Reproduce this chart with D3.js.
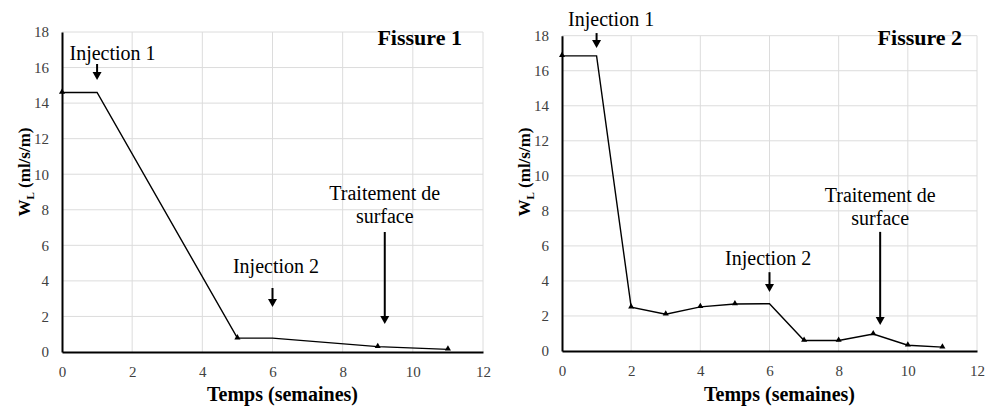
<!DOCTYPE html>
<html>
<head>
<meta charset="utf-8">
<script src="https://cdn.jsdelivr.net/npm/d3@7"></script>
<style>
  body { margin: 0; background: #fff; }
  svg { display: block; }
  svg text { font-family: "Liberation Serif", "Times New Roman", serif; }
</style>
</head>
<body>
<svg width="986" height="409"></svg>
<script>
/* data */
var xTicks = [0, 2, 4, 6, 8, 10, 12];
var yTicks = [0, 2, 4, 6, 8, 10, 12, 14, 16, 18];

var fissure1Weeks = [0, 1, 5, 6, 9, 11];
var fissure1Wl = [14.6, 14.6, 0.78, 0.78, 0.3, 0.15];
var fissure1Marked = [0, 5, 9, 11];

var fissure2Weeks = [0, 1, 2, 3, 4, 5, 6, 7, 8, 9, 10, 11];
var fissure2Wl = [16.85, 16.85, 2.5, 2.1, 2.52, 2.68, 2.7, 0.6, 0.6, 0.97, 0.33, 0.22];
var fissure2Marked = [0, 2, 3, 4, 5, 7, 8, 9, 10, 11];

var svg = d3.select("svg");

/* annotation spots are in data units */
var panels = [
  {
    title: "Fissure 1", weeks: fissure1Weeks, values: fissure1Wl, marked: fissure1Marked,
    left: 62, right: 483, top: 32, bottom: 352, yTitleX: 22,
    titlePos: [11.4, 17.27],
    labels: [
      { lines: ["Injection 1"], x: 1.44, y: 16.4 },
      { lines: ["Injection 2"], x: 6.1, y: 4.44 },
      { lines: ["Traitement de", "surface"], x: 9.2, y: 8.55 }
    ],
    arrows: [
      { x: 1, y1: 16.2, y2: 15.3 },
      { x: 6, y1: 3.6, y2: 2.53 },
      { x: 9.2, y1: 6.75, y2: 1.57 }
    ]
  },
  {
    title: "Fissure 2", weeks: fissure2Weeks, values: fissure2Wl, marked: fissure2Marked,
    left: 562, right: 977, top: 35.7, bottom: 351, yTitleX: 522,
    titlePos: [11.57, 17.46],
    labels: [
      { lines: ["Injection 1"], x: 1.42, y: 18.55 },
      { lines: ["Injection 2"], x: 5.96, y: 4.9 },
      { lines: ["Traitement de", "surface"], x: 9.2, y: 8.5 }
    ],
    arrows: [
      { x: 1, y1: 18.15, y2: 17.3 },
      { x: 6, y1: 4.5, y2: 3.37 },
      { x: 9.2, y1: 6.8, y2: 1.48 }
    ]
  }
];

var drawPanel = function (p) {
  var g = svg.append("g");
  var xScale = d3.scaleLinear().domain([0, 12]).range([p.left, p.right]);
  var yScale = d3.scaleLinear().domain([0, 18]).range([p.bottom, p.top]);

  /* grid */
  g.selectAll(".vgrid").data(xTicks.slice(1)).enter().append("line")
    .attr("x1", (d) => xScale(d)).attr("x2", (d) => xScale(d))
    .attr("y1", yScale(0)).attr("y2", yScale(18))
    .attr("stroke", "#dcdcdc").attr("stroke-width", 1);
  g.selectAll(".hgrid").data(yTicks.slice(1)).enter().append("line")
    .attr("x1", xScale(0)).attr("x2", xScale(12))
    .attr("y1", (d) => yScale(d)).attr("y2", (d) => yScale(d))
    .attr("stroke", "#dcdcdc").attr("stroke-width", 1);

  /* axes */
  var xAxis = d3.axisBottom(xScale).tickValues(xTicks).tickSize(0).tickPadding(14);
  var xg = g.append("g").attr("transform", "translate(0," + yScale(0) + ")").call(xAxis);
  var yAxis = d3.axisLeft(yScale).tickValues(yTicks).tickSize(0).tickPadding(13);
  var yg = g.append("g").attr("transform", "translate(" + xScale(0) + ",0)").call(yAxis);
  [xg, yg].forEach((a) => {
    a.attr("font-family", null);
    a.select(".domain").attr("stroke", "#000").attr("stroke-width", 2);
    a.selectAll("text").attr("font-size", 15).attr("fill", "#404040");
  });

  /* series */
  var pts = p.weeks.map((w, i) => [w, p.values[i]]);
  g.append("path").datum(pts)
    .attr("fill", "none").attr("stroke", "#000").attr("stroke-width", 1.4)
    .attr("d", d3.line().x((d) => xScale(d[0])).y((d) => yScale(d[1])));
  var tri = d3.symbol().type(d3.symbolTriangle).size(16);
  g.selectAll(".mk").data(pts.filter((d) => p.marked.indexOf(d[0]) >= 0)).enter()
    .append("path")
    .attr("d", tri)
    .attr("transform", (d) => "translate(" + xScale(d[0]) + "," + (yScale(d[1]) - 0.5) + ")")
    .attr("fill", "#000");

  /* axis titles */
  g.append("text")
    .attr("x", (p.left + p.right) / 2 + 10).attr("y", 401)
    .attr("text-anchor", "middle").attr("font-weight", "bold").attr("font-size", 20)
    .text("Temps (semaines)");
  var yt = g.append("text")
    .attr("transform", "translate(" + (p.yTitleX + 8) + ",172) rotate(-90)")
    .attr("text-anchor", "middle").attr("font-weight", "bold").attr("font-size", 17);
  yt.append("tspan").text("W");
  yt.append("tspan").attr("font-size", 11).attr("dy", 4).text("L");
  yt.append("tspan").attr("dy", -4).text(" (ml/s/m)");

  /* panel title */
  g.append("text")
    .attr("x", xScale(p.titlePos[0])).attr("y", yScale(p.titlePos[1]))
    .attr("text-anchor", "end").attr("font-weight", "bold").attr("font-size", 22)
    .text(p.title);

  /* annotations */
  p.labels.forEach((l) => {
    var t = g.append("text")
      .attr("x", xScale(l.x)).attr("y", yScale(l.y))
      .attr("text-anchor", "middle").attr("font-size", 20);
    l.lines.forEach((s, i) => {
      t.append("tspan").attr("x", xScale(l.x)).attr("dy", i === 0 ? 0 : 23).text(s);
    });
  });
  p.arrows.forEach((a) => {
    var x = xScale(a.x), y1 = yScale(a.y1), y2 = yScale(a.y2);
    g.append("line")
      .attr("x1", x).attr("x2", x).attr("y1", y1).attr("y2", y2 - 6)
      .attr("stroke", "#000").attr("stroke-width", 2);
    g.append("path")
      .attr("d", "M" + (x - 4.5) + "," + (y2 - 8) + "L" + (x + 4.5) + "," + (y2 - 8) + "L" + x + "," + y2 + "Z")
      .attr("fill", "#000");
  });
};

panels.forEach(drawPanel);
</script>
</body>
</html>
